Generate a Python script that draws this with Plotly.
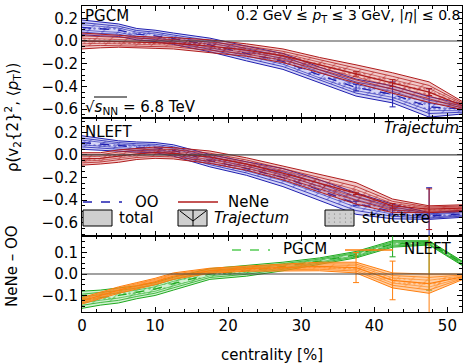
import plotly.graph_objects as go

# ---------------- data ----------------
centrality = [0, 2.5, 5, 7.5, 10, 12.5, 17.5, 22.5, 27.5, 32.5, 37.5, 42.5, 47.5, 52.5]

# PGCM panel: rho(v2^2, <pT>)
pgcm_oo = [0.12, 0.105, 0.095, 0.06, 0.045, 0.02, -0.035, -0.11, -0.18, -0.30, -0.41, -0.47, -0.58, -0.60]
pgcm_oo_hw = [0.065, 0.06, 0.055, 0.05, 0.05, 0.05, 0.06, 0.065, 0.07, 0.07, 0.075, 0.075, 0.09, 0.04]
pgcm_nene = [0.0, 0.0, -0.005, -0.01, -0.015, -0.02, -0.045, -0.08, -0.13, -0.21, -0.29, -0.37, -0.45, -0.58]
pgcm_nene_hw = [0.07, 0.06, 0.05, 0.05, 0.05, 0.05, 0.055, 0.055, 0.06, 0.065, 0.08, 0.09, 0.09, 0.03]

# NLEFT panel
nleft_oo = [0.11, 0.095, 0.08, 0.07, 0.065, 0.04, -0.05, -0.12, -0.20, -0.31, -0.43, -0.50, -0.54, -0.52]
nleft_oo_hw = [0.06, 0.05, 0.045, 0.045, 0.045, 0.05, 0.055, 0.06, 0.08, 0.09, 0.095, 0.065, 0.03, 0.03]
nleft_nene = [-0.035, -0.03, -0.01, 0.01, 0.02, 0.015, -0.02, -0.08, -0.16, -0.25, -0.34, -0.45, -0.48, -0.47]
nleft_nene_hw = [0.055, 0.05, 0.055, 0.05, 0.05, 0.05, 0.055, 0.055, 0.06, 0.08, 0.095, 0.06, 0.03, 0.03]

# NeNe - OO
diff_pgcm = [-0.12, -0.11, -0.10, -0.085, -0.07, -0.045, 0.0, 0.015, 0.035, 0.06, 0.09, 0.14, 0.145, 0.04]
diff_pgcm_hw = [0.04, 0.035, 0.035, 0.03, 0.03, 0.03, 0.025, 0.025, 0.02, 0.015, 0.015, 0.015, 0.01, 0.01]
diff_nleft = [-0.125, -0.10, -0.075, -0.055, -0.035, -0.01, 0.015, 0.025, 0.03, 0.035, 0.03, -0.03, -0.045, -0.01]
diff_nleft_hw = [0.015, 0.015, 0.015, 0.015, 0.015, 0.015, 0.012, 0.012, 0.015, 0.02, 0.025, 0.035, 0.045, 0.01]

# statistical error bars (at selected centralities)
err_centrality = [37.5, 42.5, 47.5]
pgcm_oo_err = [0.03, 0.11, 0.16]
pgcm_nene_err = [0.02, 0.03, 0.03]
nleft_oo_err = [0.02, 0.03, 0.25]
nleft_nene_err = [0.01, 0.02, 0.18]
diff_pgcm_err = [0.01, 0.06, 0.22]
diff_nleft_err = [0.07, 0.09, 0.25]

# ---------------- style ----------------
W, H = 463, 364
ML, MR, MT, MB = 82, 1, 6, 52
FONT = "DejaVu Sans"
BLUE, BLUE_F = "#1f1fb0", "rgba(90,90,225,0.25)"
RED, RED_F = "#b01c1c", "rgba(205,60,60,0.28)"
GREEN, GREEN_F = "#1faa1f", "rgba(70,200,70,0.25)"
ORANGE, ORANGE_F = "#ff7f0e", "rgba(255,150,60,0.45)"


def px(x):
    return (x - ML) / (W - ML - MR)


def py(y):
    return (H - MB - y) / (H - MT - MB)


fig = go.Figure()


def add_series(xa, ya, center, hw, color, fill, dash, errs):
    xs = list(centrality)
    def poly(frac):
        up = [c + frac * h for c, h in zip(center, hw)]
        lo = [c - frac * h for c, h in zip(center, hw)]
        return xs + xs[::-1], up + lo[::-1]
    bx, by = poly(1.0)
    fig.add_trace(go.Scatter(x=bx, y=by, xaxis=xa, yaxis=ya, mode="lines", fill="toself",
                             fillcolor=fill, line=dict(color=color, width=1), hoverinfo="skip",
                             showlegend=False))
    bx, by = poly(0.65)
    fig.add_trace(go.Scatter(x=bx, y=by, xaxis=xa, yaxis=ya, mode="lines", fill="toself",
                             fillcolor="rgba(0,0,0,0)",
                             fillpattern=dict(shape="/", fgcolor=color, bgcolor="rgba(0,0,0,0)",
                                              size=11, solidity=0.1),
                             line=dict(color=color, width=0.8), hoverinfo="skip", showlegend=False))
    bx, by = poly(0.35)
    fig.add_trace(go.Scatter(x=bx, y=by, xaxis=xa, yaxis=ya, mode="lines", fill="toself",
                             fillcolor="rgba(0,0,0,0)",
                             fillpattern=dict(shape=".", fgcolor=color, bgcolor="rgba(0,0,0,0)",
                                              size=5, solidity=0.2),
                             line=dict(color=color, width=0.6), hoverinfo="skip", showlegend=False))
    fig.add_trace(go.Scatter(x=xs, y=center, xaxis=xa, yaxis=ya, mode="lines",
                             line=dict(color=color, width=1.3, dash=dash), hoverinfo="skip",
                             showlegend=False))
    ey = [center[centrality.index(c)] for c in err_centrality]
    fig.add_trace(go.Scatter(x=err_centrality, y=ey, xaxis=xa, yaxis=ya, mode="markers",
                             marker=dict(size=1, color=color),
                             error_y=dict(type="data", array=errs, color=color, thickness=1, width=3),
                             hoverinfo="skip", showlegend=False))


add_series("x", "y", pgcm_oo, pgcm_oo_hw, BLUE, BLUE_F, "dash", pgcm_oo_err)
add_series("x", "y", pgcm_nene, pgcm_nene_hw, RED, RED_F, "solid", pgcm_nene_err)
add_series("x2", "y2", nleft_oo, nleft_oo_hw, BLUE, BLUE_F, "dash", nleft_oo_err)
add_series("x2", "y2", nleft_nene, nleft_nene_hw, RED, RED_F, "solid", nleft_nene_err)
add_series("x3", "y3", diff_pgcm, diff_pgcm_hw, GREEN, GREEN_F, "dash", diff_pgcm_err)
add_series("x3", "y3", diff_nleft, diff_nleft_hw, ORANGE, ORANGE_F, "solid", diff_nleft_err)

tickfont = dict(family=FONT, size=15, color="black")
common = dict(showline=True, linecolor="black", linewidth=1, mirror="allticks", ticks="inside",
              ticklen=5, tickcolor="black", showgrid=False, zeroline=False, tickfont=tickfont)

p1 = (py(118), py(6))
p2 = (py(236), py(118))
p3 = (py(312), py(236))

xcommon = dict(common, range=[0, 52], dtick=10, minor=dict(ticks="inside", ticklen=3, dtick=2, tickcolor="black"))
fig.update_layout(
    xaxis=dict(xcommon, anchor="y", showticklabels=False),
    xaxis2=dict(xcommon, anchor="y2", showticklabels=False, matches="x"),
    xaxis3=dict(xcommon, anchor="y3", matches="x"),
    yaxis=dict(common, domain=list(p1), range=[-0.678, 0.308], tickvals=[-0.6, -0.4, -0.2, 0, 0.2],
               tickformat=".1f", minor=dict(ticks="inside", ticklen=3, dtick=0.05, tickcolor="black")),
    yaxis2=dict(common, domain=list(p2), range=[-0.717, 0.327], tickvals=[-0.6, -0.4, -0.2, 0, 0.2],
                tickformat=".1f", minor=dict(ticks="inside", ticklen=3, dtick=0.05, tickcolor="black")),
    yaxis3=dict(common, domain=list(p3), range=[-0.177, 0.177], tickvals=[-0.1, 0, 0.1],
                tickformat=".1f", minor=dict(ticks="inside", ticklen=3, dtick=0.025, tickcolor="black")),
    width=W, height=H, margin=dict(l=ML, r=MR, t=MT, b=MB),
    plot_bgcolor="white", paper_bgcolor="white", showlegend=False,
    font=dict(family=FONT, size=15, color="black"),
)

shapes = []
for ya in ["y", "y2", "y3"]:
    shapes.append(dict(type="line", xref="x domain", yref=ya, x0=0, x1=1, y0=0, y1=0,
                       line=dict(color="#444", width=1.2), layer="above"))

# legend glyphs
def hline(x0, x1, y, color, dash="solid", w=1.5):
    shapes.append(dict(type="line", xref="paper", yref="paper", x0=px(x0), x1=px(x1), y0=py(y), y1=py(y),
                       line=dict(color=color, width=w, dash=dash)))

hline(83, 122, 202, BLUE, "dash")
hline(178, 218, 202, RED, "solid")
hline(232, 270, 250, "#55cc55", "dash")
hline(345, 393, 250, ORANGE, "solid")

for bx0 in (83, 178, 325):
    shapes.append(dict(type="rect", xref="paper", yref="paper", x0=px(bx0), x1=px(bx0 + 29),
                       y0=py(226), y1=py(210), fillcolor="#cfcfcf", line=dict(color="black", width=1)))
# Trajectum glyph lines
for (a, b, c, d) in [(193, 210, 193, 226), (180, 211, 193, 221), (206, 211, 193, 221)]:
    shapes.append(dict(type="line", xref="paper", yref="paper", x0=px(a), y0=py(b), x1=px(c), y1=py(d),
                       line=dict(color="black", width=1)))
# structure glyph dots
for i in range(5):
    for j in range(3):
        cx, cy = 329 + i * 5.5, 214 + j * 4
        shapes.append(dict(type="circle", xref="paper", yref="paper", x0=px(cx - 0.6), x1=px(cx + 0.6),
                           y0=py(cy + 0.6), y1=py(cy - 0.6), fillcolor="#777", line=dict(width=0)))
# sqrt overline
shapes.append(dict(type="line", xref="paper", yref="paper", x0=px(94), x1=px(127), y0=py(97), y1=py(97),
                   line=dict(color="black", width=1)))
fig.update_layout(shapes=shapes)

def ann(text, x, y, xanchor="left", size=15, angle=0):
    return dict(text=text, x=px(x), y=py(y), xref="paper", yref="paper", xanchor=xanchor, yanchor="middle",
                showarrow=False, textangle=angle, font=dict(family=FONT, size=size, color="black"))

anns = [
    ann("PGCM", 83, 16),
    ann("0.2 GeV ≤ <i>p</i><sub>T</sub> ≤ 3 GeV, |<i>η</i>| ≤ 0.8", 462, 16, "right", 14),
    ann("√<i>s</i><sub>NN</sub> = 6.8 TeV", 83, 107),
    ann("NLEFT", 83, 132),
    ann("<i>Trajectum</i>", 461, 128, "right"),
    ann("OO", 133, 202),
    ann("NeNe", 226, 202),
    ann("total", 117, 218),
    ann("<i>Trajectum</i>", 212, 218),
    ann("structure", 360, 218),
    ann("PGCM", 281, 249),
    ann("NLEFT", 402, 249),
    ann("centrality [%]", 272, 355, "center"),
    ann("ρ(v<sub>2</sub>{2}<sup>2</sup>, ⟨<i>p</i><sub>T</sub>⟩)", 12, 118, "center", 15, -90),
    ann("NeNe – OO", 12, 266, "center", 15, -90),
]
fig.update_layout(annotations=anns)

fig.write_html("out.html", config={"displayModeBar": False},
               post_script="document.body.style.margin='0';document.body.style.padding='0';")
